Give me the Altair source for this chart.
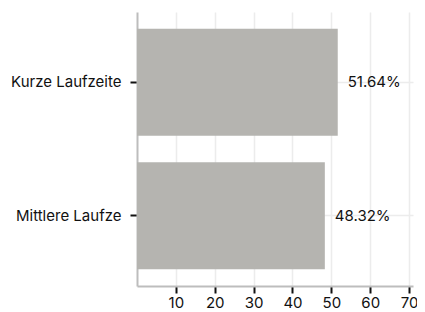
import altair as alt
import pandas as pd

categories = ["Kurze Laufzeite", "Mittlere Laufze"]
values = [51.64, 48.32]
labels = ["51.64%", "48.32%"]
x_ticks = [10, 20, 30, 40, 50, 60, 70]

df = pd.DataFrame({"cat": categories, "val": values, "lab": labels})

FONT = "Inter"
FS = 15

x = alt.X("val:Q", scale=alt.Scale(domain=[0, 71], nice=False, zero=True),
          axis=alt.Axis(values=x_ticks, title=None, grid=True, gridColor="#ececec", gridWidth=1.5,
                        domainColor="#bdbdbd", domainWidth=2, tickColor="#111", tickWidth=2,
                        tickSize=7, labelFontSize=FS, labelFont=FONT, labelColor="#111",
                        labelPadding=2))
y = alt.Y("cat:N", sort=categories,
          scale=alt.Scale(paddingInner=0.2, paddingOuter=0.125),
          axis=alt.Axis(title=None, grid=True, gridColor="#ececec", gridWidth=1.5,
                        domainColor="#bdbdbd", domainWidth=2, tickColor="#111", tickWidth=2,
                        tickSize=7, labelFontSize=FS, labelFont=FONT, labelColor="#111",
                        labelPadding=9, labelLimit=200))

bars = alt.Chart(df).mark_bar(color="#b5b4b0").encode(x=x, y=y)
text = alt.Chart(df).mark_text(align="left", dx=10, fontSize=FS, font=FONT, color="#111").encode(
    x="val:Q", y=alt.Y("cat:N", sort=categories), text="lab:N")

chart = alt.layer(bars, text).properties(
    width=409, height=302,
    autosize=alt.AutoSizeParams(type="fit", contains="padding"),
    padding={"left": 2, "top": 4, "right": 0, "bottom": 0}
).configure_view(stroke=None)

chart.save("out.html", embed_options={"renderer": "svg", "actions": False})
